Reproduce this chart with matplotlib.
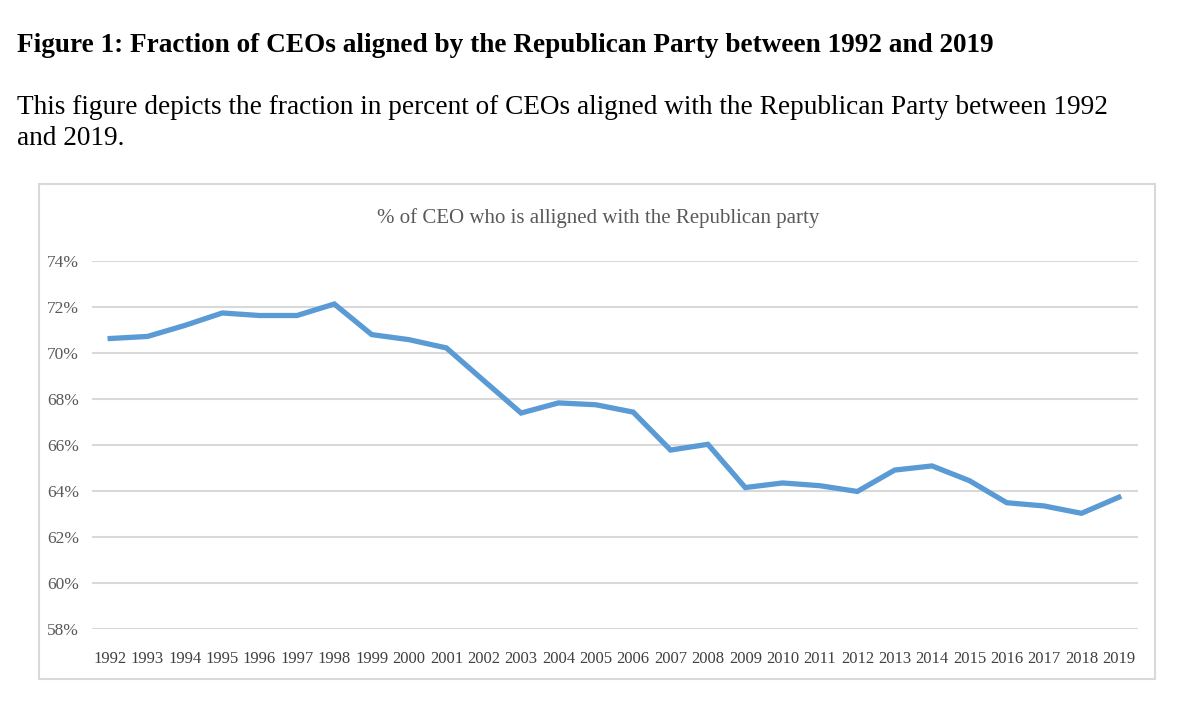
import matplotlib.pyplot as plt
from matplotlib.patches import Rectangle
from matplotlib.ticker import FuncFormatter

# valori (percentuale CEO repubblicani)
anni = [str(a) for a in range(1992, 2020)]
percentuali = [70.63, 70.72, 71.2, 71.74, 71.63, 71.63, 72.13, 70.8, 70.58, 70.22,
               68.8, 67.39, 67.83, 67.75, 67.43, 65.78, 66.03, 64.15, 64.35, 64.23,
               63.98, 64.91, 65.09, 64.45, 63.49, 63.35, 63.03, 63.73]
tick_y = [58, 60, 62, 64, 66, 68, 70, 72, 74]

titolo_fig = "Figure 1: Fraction of CEOs aligned by the Republican Party between 1992 and 2019"
descrizione = ("This figure depicts the fraction in percent of CEOs aligned with the Republican Party between 1992\n"
               "and 2019.")
titolo_grafico = "% of CEO who is alligned with the Republican party"

serif = ['Liberation Serif', 'DejaVu Serif']

fig = plt.figure(figsize=(12, 7.16), dpi=100)
W, H = 1200, 716

# testo sopra il grafico
fig.text(17 / W, 1 - 45 / H, titolo_fig, family=serif, fontweight='bold',
         fontsize=19.6, va='center', ha='left', color='black')
fig.text(17 / W, 1 - 123 / H, descrizione, family=serif, fontsize=19.6,
         va='center', ha='left', color='black', linespacing=1.3)

# cornice del grafico
fig.patches.append(Rectangle((39 / W, 1 - 679 / H), (1155 - 39) / W, (679 - 184) / H,
                             transform=fig.transFigure, fill=False,
                             edgecolor='#D9D9D9', linewidth=1.5))

ax = fig.add_axes([91.5 / W, 1 - 629 / H, (1137.5 - 91.5) / W, (629 - 261) / H])
x = list(range(len(anni)))
ax.plot(x, percentuali, color='#5B9BD5', lw=3.8, solid_joinstyle='miter', zorder=3)

ax.set_xlim(-0.5, len(anni) - 0.5)
ax.set_ylim(58, 74)
ax.set_yticks(tick_y)
ax.yaxis.set_major_formatter(FuncFormatter(lambda v, p: f'{v:.0f}%'))
ax.set_xticks(x)
ax.set_xticklabels(anni)
ax.grid(axis='y', color='#D9D9D9', lw=1.5)
ax.set_axisbelow(True)
for s in ax.spines.values():
    s.set_visible(False)
ax.tick_params(length=0)
ax.tick_params(axis='y', pad=9, labelsize=12.5, labelcolor='#595959')
ax.tick_params(axis='x', pad=16, labelsize=12, labelcolor='#404040')
for lab in ax.get_xticklabels() + ax.get_yticklabels():
    lab.set_family(serif)

fig.text(598 / W, 1 - 218 / H, titolo_grafico, family=serif, fontsize=15,
         ha='center', va='center', color='#595959')

plt.savefig('out.png', dpi=100)
